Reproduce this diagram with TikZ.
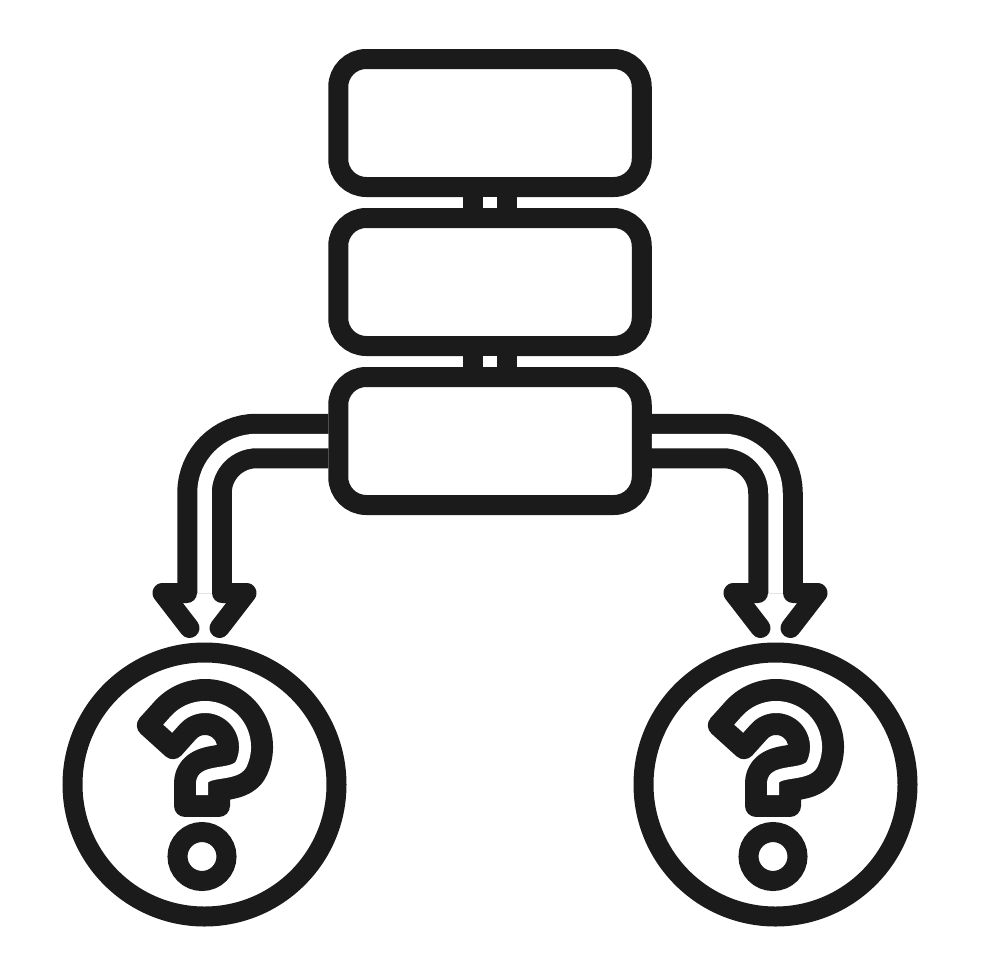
\documentclass[tikz,border=0pt]{standalone}
\usetikzlibrary{positioning}
\definecolor{ink}{HTML}{1B1B1B}
% question mark skeleton, relative to the centre of its ring
\newcommand{\qhook}{(-51.5,39.5) -- (-29.1,64.4) arc[start angle=137.8, end angle=-25, radius=40pt] .. controls +(-115:14) and +(0,14) .. (-2.5,1.5) -- (-2.5,-32.5)}
\begin{document}
\begin{tikzpicture}[x=1pt, y=1pt,
		block/.style={draw=ink, line width=20pt, rounded corners=28pt, minimum width=303.5pt, minimum height=128pt, inner sep=0pt, outer sep=10pt},
		ring/.style={draw=ink, line width=20pt, circle, minimum size=264pt, inner sep=0pt, outer sep=10pt},
		dot/.style={draw=ink, line width=20pt, circle, minimum size=49pt, inner sep=0pt},
		twin/.style={draw=ink, line width=20pt, double=white, double distance=14.5pt},
		barb/.style={draw=ink, line width=20pt, line cap=round, line join=round}]
		\path[use as bounding box, fill=white] (0,0) rectangle (980,-980);
		
		\node[block] (r1) at (490,-123) {};
		\node[block, below=11pt of r1] (r2) {};
		\node[block, below=11pt of r2] (r3) {};
		\foreach \a/\b in {r1/r2, r2/r3}{
			\draw[twin] (\a.south) -- (\b.north);
		}
		
		\node[ring] (ql) at (204.5,-784.5) {};
		\node[ring] (qr) at (775.5,-784.5) {};
		
		\foreach \q/\side in {ql/west, qr/east}{
			\draw[twin, rounded corners=52pt] (r3.\side) -| ([yshift=49.5pt]\q.north);
			\foreach \b/\c in {-1/1, 1/-1}{
				\draw[barb] ([xshift=\b*17.5pt, yshift=49.5pt]\q.north) -- ++(\b*24.5,0) -- ++(\c*27,-35);
			}
			\begin{scope}[shift={(\q.center)}]
				\draw[ink, line width=56pt, line join=round, shorten <=11pt, shorten >=11pt] \qhook;
				\draw[barb, line width=22pt] (-56.7,59.1) -- (-31.5,36.3);
				\draw[barb, line width=22pt] (-19.5,-21.5) -- (14.5,-21.5);
				\draw[white, line width=12pt, line join=round, shorten <=22pt, shorten >=22pt] \qhook;
			\end{scope}
			\node[dot] (d\q) at ([xshift=-2.5pt, yshift=-72pt]\q.center) {};
		}
\end{tikzpicture}
\end{document}
